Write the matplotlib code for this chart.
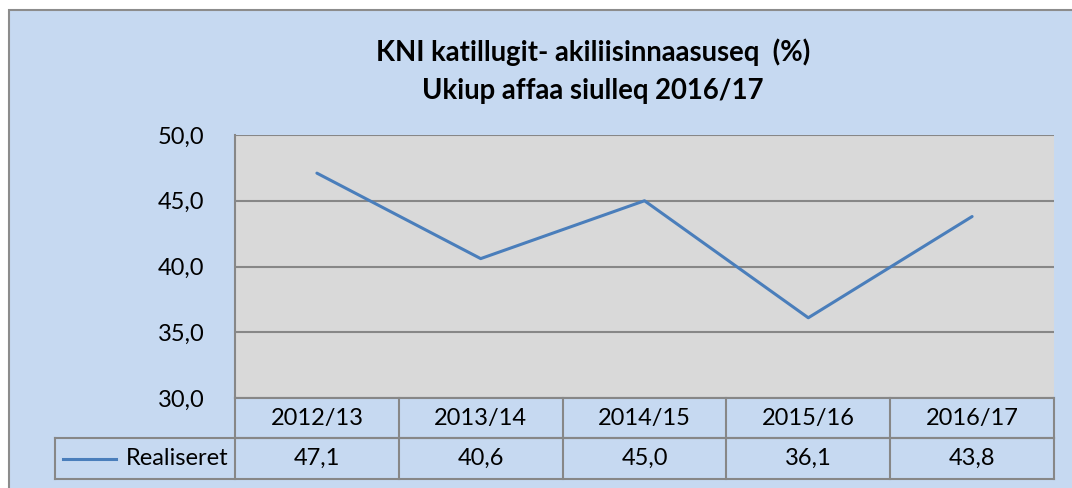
import matplotlib
matplotlib.use("Agg")
import matplotlib.pyplot as plt
from matplotlib.patches import Rectangle
from matplotlib.lines import Line2D
from matplotlib import transforms

plt.rcParams['font.family'] = ['Lato', 'DejaVu Sans']

# data
years = ['2012/13', '2013/14', '2014/15', '2015/16', '2016/17']
realiseret = [47.1, 40.6, 45.0, 36.1, 43.8]
series_name = 'Realiseret'
yticks = [30, 35, 40, 45, 50]
title = 'KNI katillugit- akiliisinnaasuseq  (%)\nUkiup affaa siulleq 2016/17'

bg = '#C6D9F1'
plot_bg = '#D9D9D9'
grid_col = '#878787'
line_col = '#4A7EBB'
fs = 17

W, H = 1072, 488
fig = plt.figure(figsize=(W / 100, H / 100), dpi=100, facecolor='white')

# chart area background with border on left/top
fig.add_artist(Rectangle((9 / W, -0.01), 1.02, 1 - 10 / H + 0.01, transform=fig.transFigure,
                         facecolor=bg, edgecolor='#8c8c8c', lw=1.5, zorder=-5))

left, right, top, bottom = 235, 1054, 135, 398
ax = fig.add_axes([left / W, 1 - bottom / H, (right - left) / W, (bottom - top) / H])
ax.set_facecolor(plot_bg)

x = [i + 0.5 for i in range(len(years))]
ax.plot(x, realiseret, color=line_col, lw=2.2, solid_capstyle='round')

ax.set_xlim(0, len(years))
ax.set_ylim(30, 50)
ax.set_yticks(yticks)
ax.set_yticklabels([f'{v:.1f}'.replace('.', ',') for v in yticks], fontsize=fs)
ax.set_xticks([])
ax.tick_params(axis='y', length=0, pad=22)
ax.yaxis.grid(True, color=grid_col, lw=1.5)
ax.set_axisbelow(True)
for s in ['top', 'right', 'bottom']:
    ax.spines[s].set_visible(False)
ax.spines['left'].set_color(grid_col)
ax.spines['left'].set_linewidth(1.5)

fig.text(593 / W, 1 - 71 / H, title, ha='center', va='center', fontsize=19.8,
         fontweight='bold', linespacing=1.55)

# data table under the plot
ph = bottom - top
r1 = -40 / ph
r2 = -81 / ph
leg_left = (55 - left) / (right - left)
trans = transforms.blended_transform_factory(ax.transData, ax.transAxes)
tl = dict(color=grid_col, lw=1.5, clip_on=False)
ax.add_line(Line2D([0, len(years)], [r1, r1], transform=trans, **tl))
ax.add_line(Line2D([0, len(years)], [0, 0], transform=trans, **tl))
ax.add_line(Line2D([leg_left, 1], [r1, r1], transform=ax.transAxes, **tl))
ax.add_line(Line2D([leg_left, 1], [r2, r2], transform=ax.transAxes, **tl))
ax.add_line(Line2D([leg_left, leg_left], [r1, r2], transform=ax.transAxes, **tl))
for i in range(len(years) + 1):
    ax.add_line(Line2D([i, i], [0, r2], transform=trans, **tl))

for xi, yr, v in zip(x, years, realiseret):
    ax.text(xi, r1 / 2, yr, transform=trans, ha='center', va='center', fontsize=fs)
    ax.text(xi, (r1 + r2) / 2, f'{v:.1f}'.replace('.', ','), transform=trans,
            ha='center', va='center', fontsize=fs)

# legend key inside the table
lk = lambda px: (px - left) / (right - left)
ax.add_line(Line2D([lk(63), lk(116)], [(r1 + r2) / 2] * 2, transform=ax.transAxes,
                   color=line_col, lw=2.2, clip_on=False))
ax.text(lk(228), (r1 + r2) / 2, series_name, transform=ax.transAxes, ha='right',
        va='center', fontsize=fs)

fig.savefig('out.png', dpi=100, facecolor='white')
